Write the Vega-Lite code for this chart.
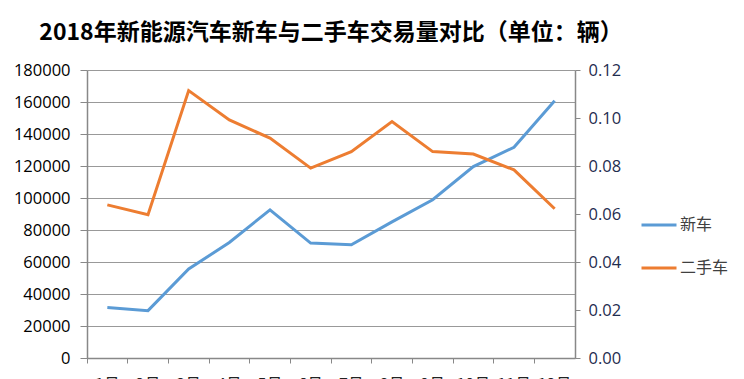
{
  "$schema": "https://vega.github.io/schema/vega-lite/v6.json",
  "width": 488,
  "height": 288,
  "autosize": {"type": "none"},
  "padding": {"left": 87, "top": 70, "right": 169, "bottom": 21},
  "background": "white",
  "config": {"view": {"stroke": null}},
  "title": {
    "text": "2018年新能源汽车新车与二手车交易量对比（单位：辆）",
    "font": "Noto Sans CJK SC",
    "fontSize": 23,
    "fontWeight": "bold",
    "color": "#000000",
    "anchor": "middle",
    "frame": "group",
    "offset": 17
  },
  "data": {
    "values": [
      {"month": "1月", "series": "新车", "value": 31600},
      {"month": "2月", "series": "新车", "value": 29600},
      {"month": "3月", "series": "新车", "value": 55600},
      {"month": "4月", "series": "新车", "value": 72200},
      {"month": "5月", "series": "新车", "value": 92600},
      {"month": "6月", "series": "新车", "value": 71800},
      {"month": "7月", "series": "新车", "value": 70800},
      {"month": "8月", "series": "新车", "value": 85100},
      {"month": "9月", "series": "新车", "value": 98900},
      {"month": "10月", "series": "新车", "value": 119600},
      {"month": "11月", "series": "新车", "value": 131700},
      {"month": "12月", "series": "新车", "value": 160800},
      {"month": "1月", "series": "二手车", "value": 0.0638},
      {"month": "2月", "series": "二手车", "value": 0.0597},
      {"month": "3月", "series": "二手车", "value": 0.1114},
      {"month": "4月", "series": "二手车", "value": 0.0992},
      {"month": "5月", "series": "二手车", "value": 0.0916},
      {"month": "6月", "series": "二手车", "value": 0.0791},
      {"month": "7月", "series": "二手车", "value": 0.0860},
      {"month": "8月", "series": "二手车", "value": 0.0985},
      {"month": "9月", "series": "二手车", "value": 0.0860},
      {"month": "10月", "series": "二手车", "value": 0.0850},
      {"month": "11月", "series": "二手车", "value": 0.0784},
      {"month": "12月", "series": "二手车", "value": 0.0622}
    ]
  },
  "encoding": {
    "x": {
      "field": "month",
      "type": "ordinal",
      "sort": null,
      "bandPosition": 0.5,
      "scale": {"type": "band", "paddingInner": 0, "paddingOuter": 0},
      "axis": {
        "title": null,
        "labelAngle": 0,
        "labelFont": "Noto Sans CJK SC",
        "labelFontSize": 16,
        "labelColor": "#222222",
        "labelPadding": 13,
        "bandPosition": 0,
        "tickSize": 5,
        "tickColor": "#888888",
        "domainColor": "#888888",
        "domainWidth": 1.5,
        "grid": false
      }
    }
  },
  "layer": [
    {
      "transform": [{"filter": "datum.series === '新车'"}],
      "mark": {"type": "line", "strokeWidth": 3},
      "encoding": {
        "y": {
          "field": "value",
          "type": "quantitative",
          "scale": {"domain": [0, 180000], "nice": false},
          "axis": {
            "title": null,
            "orient": "left",
            "values": [0, 20000, 40000, 60000, 80000, 100000, 120000, 140000, 160000, 180000],
            "format": "d",
            "labelFont": "Open Sans",
            "labelFontSize": 16.5,
            "labelColor": "#000000",
            "labelPadding": 10,
            "tickSize": 7,
            "tickColor": "#888888",
            "domainColor": "#888888",
            "domainWidth": 1.5,
            "grid": true,
            "gridColor": "#999999",
            "gridWidth": 1.2
          }
        },
        "color": {
          "field": "series",
          "type": "nominal",
          "scale": {"domain": ["新车", "二手车"], "range": ["#5b9bd5", "#ed7d31"]},
          "legend": {
            "title": null,
            "orient": "none",
            "legendX": 553,
            "legendY": 136,
            "symbolType": "stroke",
            "symbolSize": 1225,
            "symbolStrokeWidth": 3,
            "labelFont": "Noto Sans CJK SC",
            "labelFontSize": 16,
            "labelColor": "#404040",
            "labelOffset": 2,
            "rowPadding": 16
          }
        }
      }
    },
    {
      "transform": [{"filter": "datum.series === '二手车'"}],
      "mark": {"type": "line", "strokeWidth": 3},
      "encoding": {
        "y": {
          "field": "value",
          "type": "quantitative",
          "scale": {"domain": [0, 0.12], "nice": false},
          "axis": {
            "title": null,
            "orient": "right",
            "values": [0, 0.02, 0.04, 0.06, 0.08, 0.1, 0.12],
            "format": ".2f",
            "labelFont": "Open Sans",
            "labelFontSize": 16.5,
            "labelColor": "#1f2d4f",
            "labelPadding": 8,
            "tickSize": 5,
            "tickColor": "#888888",
            "domainColor": "#888888",
            "domainWidth": 1.5,
            "grid": false
          }
        },
        "color": {
          "field": "series",
          "type": "nominal",
          "scale": {"domain": ["新车", "二手车"], "range": ["#5b9bd5", "#ed7d31"]}
        }
      }
    }
  ],
  "resolve": {"scale": {"y": "independent"}}
}
